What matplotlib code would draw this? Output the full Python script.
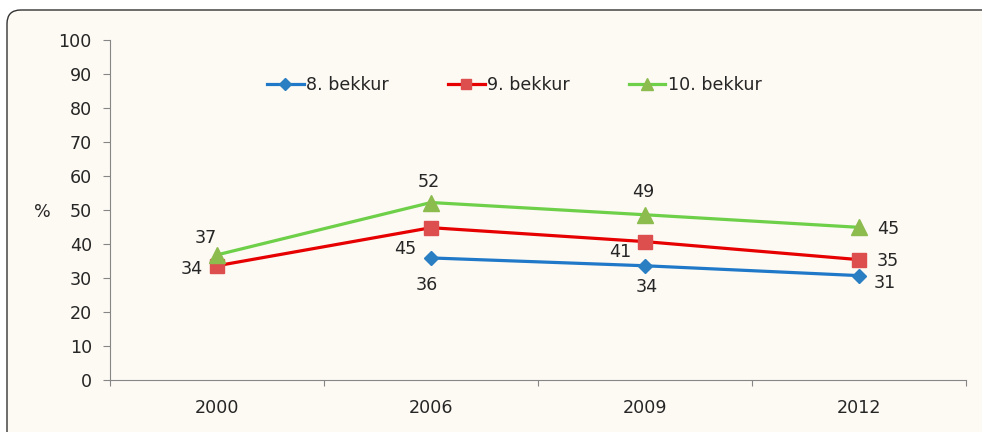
import numpy as np
import matplotlib.pyplot as plt
from matplotlib.patches import FancyBboxPatch

plt.rcParams['font.family'] = ['DejaVu Sans']

years = ['2000', '2006', '2009', '2012']
bekkur8 = [np.nan, 35.9, 33.6, 30.7]
bekkur9 = [33.6, 44.8, 40.7, 35.4]
bekkur10 = [36.8, 52.2, 48.6, 44.9]

# label offsets in pixels (dx, dy) for each point
off8 = [None, (-4, -27), (2, -21), (26, -7)]
off9 = [(-25, -3), (-26, -21), (-25, -10), (29, -1)]
off10 = [(-11, 17), (-2, 21), (-2, 23), (29, -2)]

txt = '#262626'
fs = 12.6
fig = plt.figure(figsize=(9.82, 4.32), dpi=100, facecolor='white')

# rounded outer box, running off the right and bottom edges
box = FancyBboxPatch((7 / 982, 1 - 500 / 432), 1040 / 982, 490 / 432,
                     boxstyle='round,pad=0,rounding_size=0.014',
                     transform=fig.transFigure, facecolor='#fdf9f3',
                     edgecolor='#333333', linewidth=1.0,
                     mutation_aspect=982 / 432, zorder=-5)
fig.patches.append(box)

ax = fig.add_axes([110 / 982, 52 / 432, 856 / 982, 340 / 432])
ax.set_facecolor('none')

x = np.arange(len(years))
series = [
    ('8. bekkur', bekkur8, off8, '#1f78c8', '#2a7fc2', 'D', 7, 6),
    ('9. bekkur', bekkur9, off9, '#e60000', '#dd4e4e', 's', 10.5, 7.5),
    ('10. bekkur', bekkur10, off10, '#6dd048', '#8cbb4e', '^', 11, 8),
]
for name, vals, offs, lc, mc, mk, ms, _ in series:
    ax.plot(x, vals, color=lc, lw=2.3, marker=mk, ms=ms,
            markerfacecolor=mc, markeredgecolor=mc, label=name)
    for i, v in enumerate(vals):
        if np.isnan(v):
            continue
        ax.annotate(f'{v:.0f}', (x[i], v), xytext=offs[i],
                    textcoords='offset pixels', ha='center', va='center',
                    fontsize=fs, color=txt)

ax.set_xlim(-0.5, len(years) - 0.5)
ax.set_ylim(0, 100)
ax.set_yticks(range(0, 101, 10))
ax.set_xticks(np.arange(len(years) + 1) - 0.5)
ax.set_xticklabels([])
ax.set_xticks(x, minor=True)
ax.set_xticklabels(years, minor=True)
ax.tick_params(axis='x', which='minor', length=0, pad=14, labelsize=fs, labelcolor=txt)
ax.tick_params(axis='x', which='major', length=4, color='#868686')
ax.tick_params(axis='y', length=5, color='#868686', labelsize=fs, labelcolor=txt, pad=8)
for s in ['top', 'right']:
    ax.spines[s].set_visible(False)
for s in ['left', 'bottom']:
    ax.spines[s].set_color('#868686')

fig.text(42 / 982, 1 - 212 / 432, '%', fontsize=fs, color=txt, ha='center', va='center')

leg = ax.legend(loc='center left', bbox_to_anchor=(267 / 982, 1 - 85 / 432),
                bbox_transform=fig.transFigure, ncol=3, frameon=False,
                fontsize=fs, handlelength=2.1, handletextpad=0.15,
                columnspacing=3.35, borderpad=0, borderaxespad=0,
                labelcolor=txt)
for h, s in zip(leg.legend_handles, series):
    h.set_markersize(s[7])

fig.savefig('out.png', dpi=100, facecolor='white')
